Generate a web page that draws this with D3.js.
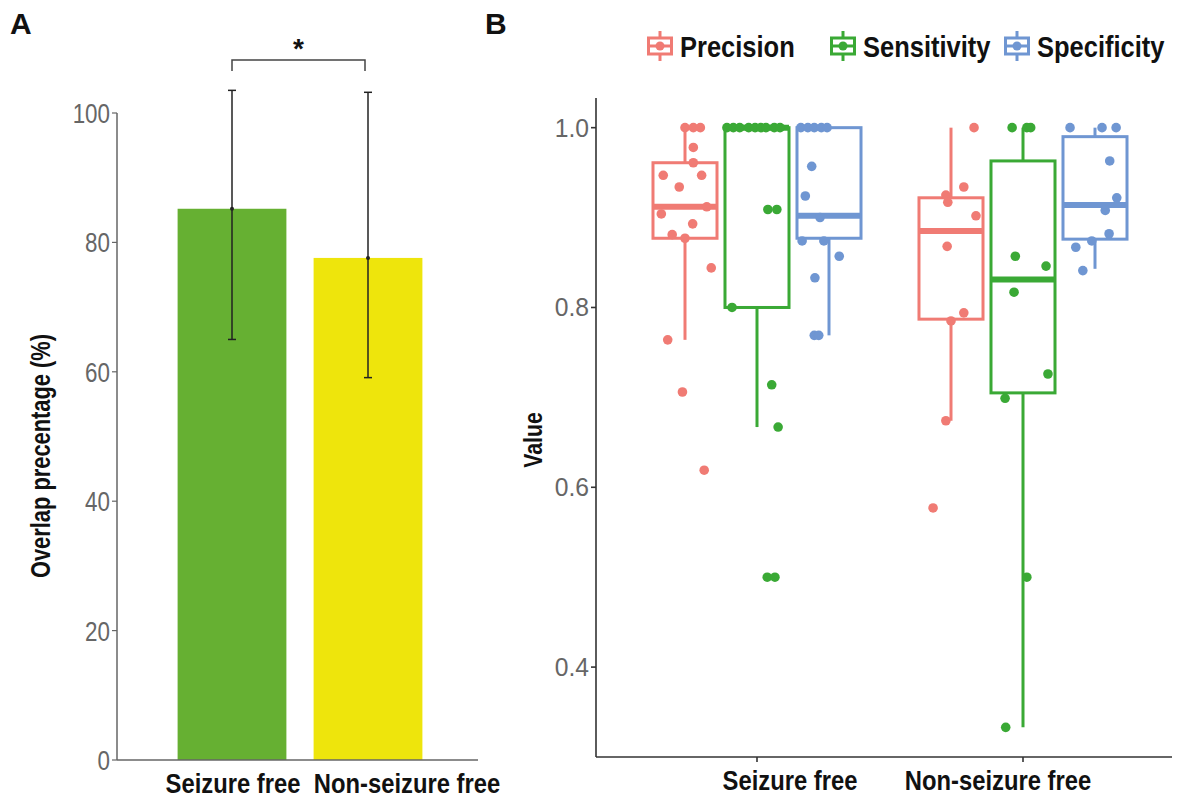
<!DOCTYPE html>
<html>
  <head>
    <meta charset="utf-8" />
    <script src="https://d3js.org/d3.v7.min.js"></script>
    <style>
      body {
        margin: 0;
        background: #fff;
      }
      text {
        font-family: "Liberation Sans", Arial, sans-serif;
      }
      text.tick-label {
        fill: #666;
      }
      text.bold {
        font-weight: bold;
        fill: #111;
      }
    </style>
  </head>
  <body>
    <svg id="chart" width="1179" height="798"></svg>
    <script>
      // ---- data ----
      const groups = ["Seizure free", "Non-seizure free"];
      const metrics = ["Precision", "Sensitivity", "Specificity"];

      // panel A: overlap percentage, mean and error bar ends
      const barMeans = [85.2, 77.6];
      const barLow = [65.0, 59.1];
      const barHigh = [103.5, 103.2];
      const yTicksA = [0, 20, 40, 60, 80, 100];

      // panel B: box stats [lower whisker, q1, median, q3, upper whisker], one row per group
      const precisionBox = [
        [0.764, 0.877, 0.912, 0.961, 1.0],
        [0.674, 0.787, 0.885, 0.922, 1.0],
      ];
      const sensitivityBox = [
        [0.667, 0.8, 1.0, 1.0, 1.0],
        [0.333, 0.705, 0.831, 0.963, 1.0],
      ];
      const specificityBox = [
        [0.769, 0.877, 0.902, 1.0, 1.0],
        [0.843, 0.876, 0.914, 0.99, 1.0],
      ];

      // points: [value, jitter as fraction of box width]
      const precisionPts = [
        [
          [1.0, 0.0], [1.0, 0.13], [1.0, 0.24], [0.978, 0.13], [0.961, 0.13],
          [0.947, -0.34], [0.947, 0.26], [0.934, -0.09], [0.912, 0.34],
          [0.904, -0.37], [0.893, 0.12], [0.881, -0.2], [0.877, 0.0],
          [0.844, 0.41], [0.764, -0.27], [0.706, -0.04], [0.619, 0.3],
        ],
        [
          [1.0, 0.36], [0.934, 0.2], [0.925, -0.08], [0.917, -0.05],
          [0.902, 0.39], [0.868, -0.06], [0.794, 0.2], [0.785, 0.0],
          [0.674, -0.08], [0.577, -0.28],
        ],
      ];
      const sensitivityPts = [
        [
          [1.0, -0.47], [1.0, -0.37], [1.0, -0.27], [1.0, -0.13], [1.0, -0.03],
          [1.0, 0.06], [1.0, 0.14], [1.0, 0.27], [1.0, 0.36],
          [0.909, 0.17], [0.909, 0.31], [0.8, -0.39], [0.714, 0.23],
          [0.667, 0.33], [0.5, 0.16], [0.5, 0.28],
        ],
        [
          [1.0, -0.17], [1.0, 0.06], [1.0, 0.12], [0.857, -0.12], [0.846, 0.36],
          [0.817, -0.14], [0.726, 0.39], [0.699, -0.28], [0.5, 0.06],
          [0.333, -0.27],
        ],
      ];
      const specificityPts = [
        [
          [1.0, -0.44], [1.0, -0.33], [1.0, -0.23], [1.0, -0.12], [1.0, -0.03],
          [0.957, -0.27], [0.924, -0.37], [0.9, -0.14], [0.874, -0.42],
          [0.874, -0.08], [0.857, 0.16], [0.833, -0.22], [0.769, -0.23],
          [0.769, -0.16],
        ],
        [
          [1.0, -0.39], [1.0, 0.11], [1.0, 0.33], [0.963, 0.23], [0.922, 0.34],
          [0.908, 0.16], [0.882, 0.22], [0.874, -0.05], [0.867, -0.3],
          [0.841, -0.19],
        ],
      ];
      const yTicksB = [0.4, 0.6, 0.8, 1.0];

      const boxes = [precisionBox, sensitivityBox, specificityBox];
      const points = [precisionPts, sensitivityPts, specificityPts];

      // the figure uses a condensed face; squeeze the glyphs horizontally
      function condense(sel, f) {
        sel.each(function () {
          const t = d3.select(this);
          const x = +t.attr("x") || 0;
          const y = +t.attr("y") || 0;
          const base = t.attr("transform") || "";
          t.attr("x", 0)
            .attr("y", 0)
            .attr("transform", `${base} translate(${x},${y}) scale(${f},1)`);
        });
      }

      const svg = d3.select("#chart");

      // ---------------- Panel A ----------------
      const gA = svg.append("g");
      const yA = d3.scaleLinear().domain([0, 100]).range([760, 113]);
      const xA = d3
        .scaleBand()
        .domain(groups)
        .range([164, 436])
        .paddingInner(0.2)
        .paddingOuter(0.1);
      const barColors = d3.scaleOrdinal().domain(groups).range(["#66b032", "#eee50c"]);

      gA.selectAll("rect.bar")
        .data(groups)
        .join("rect")
        .attr("class", "bar")
        .attr("x", (d) => xA(d))
        .attr("width", xA.bandwidth())
        .attr("y", (d, i) => yA(barMeans[i]))
        .attr("height", (d, i) => yA(0) - yA(barMeans[i]))
        .attr("fill", (d) => barColors(d));

      // axis lines
      gA.append("line")
        .attr("x1", 117).attr("x2", 117)
        .attr("y1", yA(100)).attr("y2", yA(0))
        .attr("stroke", "#666").attr("stroke-width", 1.5);
      gA.append("line")
        .attr("x1", 117).attr("x2", 478)
        .attr("y1", yA(0)).attr("y2", yA(0))
        .attr("stroke", "#666").attr("stroke-width", 1.5);
      gA.selectAll("line.tick")
        .data(yTicksA)
        .join("line")
        .attr("class", "tick")
        .attr("x1", 112).attr("x2", 117)
        .attr("y1", (d) => yA(d)).attr("y2", (d) => yA(d))
        .attr("stroke", "#666").attr("stroke-width", 1.2);
      gA.selectAll("text.tick-label")
        .data(yTicksA)
        .join("text")
        .attr("class", "tick-label")
        .attr("x", 110)
        .attr("y", (d) => yA(d) + 10)
        .attr("text-anchor", "end")
        .style("font-size", "28px")
        .text((d) => d)
        .call(condense, 0.8);

      // error bars
      const cx = (d) => xA(d) + xA.bandwidth() / 2;
      const eb = gA.selectAll("g.err").data(groups).join("g").attr("class", "err");
      eb.append("line")
        .attr("x1", cx).attr("x2", cx)
        .attr("y1", (d, i) => yA(barHigh[i]))
        .attr("y2", (d, i) => yA(barLow[i]))
        .attr("stroke", "#222").attr("stroke-width", 1.5);
      eb.append("line")
        .attr("x1", (d) => cx(d) - 4).attr("x2", (d) => cx(d) + 4)
        .attr("y1", (d, i) => yA(barHigh[i])).attr("y2", (d, i) => yA(barHigh[i]))
        .attr("stroke", "#222").attr("stroke-width", 1.5);
      eb.append("line")
        .attr("x1", (d) => cx(d) - 4).attr("x2", (d) => cx(d) + 4)
        .attr("y1", (d, i) => yA(barLow[i])).attr("y2", (d, i) => yA(barLow[i]))
        .attr("stroke", "#222").attr("stroke-width", 1.5);
      eb.append("circle")
        .attr("cx", cx)
        .attr("cy", (d, i) => yA(barMeans[i]))
        .attr("r", 2)
        .attr("fill", "#222");

      // significance bracket
      const bx1 = cx(groups[0]), bx2 = cx(groups[1]) - 3;
      gA.append("path")
        .attr("d", `M${bx1},71 V60 H${bx2} V71`)
        .attr("fill", "none")
        .attr("stroke", "#444")
        .attr("stroke-width", 1.5);
      gA.append("text")
        .attr("class", "bold")
        .attr("x", (bx1 + bx2) / 2)
        .attr("y", 58)
        .attr("text-anchor", "middle")
        .style("font-size", "28px")
        .text("*");

      // the second label is pushed right in the figure so the two do not collide
      const xLabA = [233, 407];
      gA.selectAll("text.xlab")
        .data(groups)
        .join("text")
        .attr("class", "bold xlab")
        .attr("x", (d, i) => xLabA[i])
        .attr("y", 793)
        .attr("text-anchor", "middle")
        .style("font-size", "28px")
        .text((d) => d)
        .call(condense, 0.85);

      gA.append("text")
        .attr("class", "bold")
        .attr("transform", "translate(50,456) rotate(-90)")
        .attr("text-anchor", "middle")
        .style("font-size", "27px")
        .text("Overlap precentage (%)")
        .call(condense, 0.81);

      svg.append("text").attr("class", "bold").attr("x", 10).attr("y", 34)
        .style("font-size", "30px").text("A");
      svg.append("text").attr("class", "bold").attr("x", 485).attr("y", 34)
        .style("font-size", "30px").text("B");

      // ---------------- Panel B ----------------
      const gB = svg.append("g");
      const yB = d3.scaleLinear().domain([0.3, 1.033]).range([757, 98]);
      const xB = d3.scalePoint().domain(groups).range([757, 1023]);
      const xInner = d3
        .scaleBand()
        .domain(metrics)
        .range([-108, 108])
        .paddingInner(0.111)
        .paddingOuter(0.0555);
      const metricColor = d3
        .scaleOrdinal()
        .domain(metrics)
        .range(["#f07b74", "#3aa935", "#6f96d2"]);
      const bw = xInner.bandwidth();

      gB.append("line")
        .attr("x1", 596).attr("x2", 596)
        .attr("y1", 98).attr("y2", 757)
        .attr("stroke", "#333").attr("stroke-width", 1.6);
      gB.append("line")
        .attr("x1", 596).attr("x2", 1172)
        .attr("y1", 757).attr("y2", 757)
        .attr("stroke", "#333").attr("stroke-width", 1.6);
      gB.selectAll("line.ytick")
        .data(yTicksB)
        .join("line")
        .attr("class", "ytick")
        .attr("x1", 591).attr("x2", 596)
        .attr("y1", (d) => yB(d)).attr("y2", (d) => yB(d))
        .attr("stroke", "#333").attr("stroke-width", 1.6);
      gB.selectAll("text.tick-label")
        .data(yTicksB)
        .join("text")
        .attr("class", "tick-label")
        .attr("x", 589)
        .attr("y", (d) => yB(d) + 9)
        .attr("text-anchor", "end")
        .style("font-size", "26px")
        .text((d) => d.toFixed(1))
        .call(condense, 0.95);
      gB.selectAll("line.xtick")
        .data(groups)
        .join("line")
        .attr("class", "xtick")
        .attr("x1", (d) => xB(d)).attr("x2", (d) => xB(d))
        .attr("y1", 757).attr("y2", 762)
        .attr("stroke", "#333").attr("stroke-width", 1.6);

      // x labels sit off the tick centres in the figure
      const xLabB = [790, 998];
      gB.selectAll("text.xlab")
        .data(groups)
        .join("text")
        .attr("class", "bold xlab")
        .attr("x", (d, i) => xLabB[i])
        .attr("y", 790)
        .attr("text-anchor", "middle")
        .style("font-size", "28px")
        .text((d) => d)
        .call(condense, 0.85);

      gB.append("text")
        .attr("class", "bold")
        .attr("transform", "translate(542,440) rotate(-90)")
        .attr("text-anchor", "middle")
        .style("font-size", "25px")
        .text("Value")
        .call(condense, 0.85);

      metrics.forEach((m, mi) => {
        const col = metricColor(m);
        groups.forEach((g, gi) => {
          const s = boxes[mi][gi];
          const c = xB(g) + xInner(m) + bw / 2;
          const lay = gB.append("g");
          // whiskers
          lay.append("line")
            .attr("x1", c).attr("x2", c)
            .attr("y1", yB(s[3])).attr("y2", yB(s[4]))
            .attr("stroke", col).attr("stroke-width", 3);
          lay.append("line")
            .attr("x1", c).attr("x2", c)
            .attr("y1", yB(s[1])).attr("y2", yB(s[0]))
            .attr("stroke", col).attr("stroke-width", 3);
          // box
          lay.append("rect")
            .attr("x", c - bw / 2)
            .attr("width", bw)
            .attr("y", yB(s[3]))
            .attr("height", yB(s[1]) - yB(s[3]))
            .attr("fill", "none")
            .attr("stroke", col)
            .attr("stroke-width", 3);
          // median
          lay.append("line")
            .attr("x1", c - bw / 2).attr("x2", c + bw / 2)
            .attr("y1", yB(s[2])).attr("y2", yB(s[2]))
            .attr("stroke", col).attr("stroke-width", 6);
          // jittered points
          lay.selectAll("circle")
            .data(points[mi][gi])
            .join("circle")
            .attr("cx", (d) => c + d[1] * bw)
            .attr("cy", (d) => yB(d[0]))
            .attr("r", 4.8)
            .attr("fill", col);
        });
      });

      // legend
      const legendX = [647, 830, 1004];
      const legend = gB
        .selectAll("g.legend")
        .data(metrics)
        .join("g")
        .attr("class", "legend")
        .attr("transform", (d, i) => `translate(${legendX[i]},46)`);
      legend.append("line")
        .attr("x1", 13).attr("x2", 13).attr("y1", -15).attr("y2", 15)
        .attr("stroke", (d) => metricColor(d)).attr("stroke-width", 3);
      legend.append("rect")
        .attr("x", 1.5).attr("y", -8).attr("width", 23).attr("height", 16)
        .attr("fill", "#fff")
        .attr("stroke", (d) => metricColor(d)).attr("stroke-width", 3);
      legend.append("line")
        .attr("x1", 1.5).attr("x2", 24.5).attr("y1", 0).attr("y2", 0)
        .attr("stroke", (d) => metricColor(d)).attr("stroke-width", 3);
      legend.append("circle")
        .attr("cx", 13).attr("cy", 0).attr("r", 4.5)
        .attr("fill", (d) => metricColor(d));
      legend.append("text")
        .attr("class", "bold")
        .attr("x", 33)
        .attr("y", 11)
        .style("font-size", "30px")
        .text((d) => d)
        .call(condense, 0.85);
    </script>
  </body>
</html>
